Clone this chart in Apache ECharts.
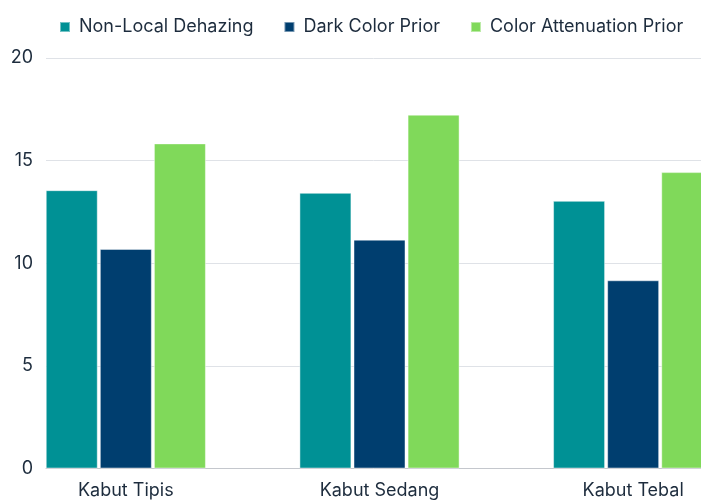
<!DOCTYPE html>
<html>
<head>
<meta charset="utf-8">
<script src="https://cdn.jsdelivr.net/npm/echarts@6/dist/echarts.min.js"></script>
<style>
  html, body { margin: 0; padding: 0; background: #fff; }
  #chart { width: 701px; height: 500px; }
</style>
</head>
<body>
<div id="chart"></div>
<script>
var categories = ["Kabut Tipis", "Kabut Sedang", "Kabut Tebal"];
var seriesNames = ["Non-Local Dehazing", "Dark Color Prior", "Color Attenuation Prior"];
var nonLocal = [13.56, 13.43, 13.04];
var darkPrior = [10.70, 11.15, 9.17];
var attenuation = [15.84, 17.24, 14.44];
var yTicks = [0, 5, 10, 15, 20];

var colors = ["#009195", "#003e6f", "#80d95a"];
var textColor = "#1d2c3d";
var font = "Inter";

var chart = echarts.init(document.getElementById("chart"));

function barSeries(name, data, color) {
  return {
    name: name,
    type: "bar",
    xAxisIndex: 1,
    yAxisIndex: 1,
    data: data,
    barWidth: 52,
    barGap: "4%",
    itemStyle: {
      color: color,
      borderColor: "rgba(255,255,255,0.45)",
      borderWidth: 1
    }
  };
}

var option = {
  animation: false,
  textStyle: { fontFamily: font },
  legend: {
    top: 13,
    left: 54,
    itemWidth: 10,
    itemHeight: 10,
    itemGap: 30,
    icon: "rect",
    data: seriesNames,
    textStyle: { color: textColor, fontSize: 18, fontFamily: font, padding: [0, 0, 0, 4] }
  },
  grid: [
    // axis frame: y labels + split lines
    { left: 46, right: 0, top: 58, bottom: 31.5 },
    // bars: wider than the canvas, cropped on the right
    { left: -1, width: 761, top: 58, bottom: 31.5, outerBoundsMode: "none" }
  ],
  xAxis: [
    {
      type: "category",
      gridIndex: 0,
      data: categories,
      axisLine: { show: true, lineStyle: { color: "#c4c7cd", width: 1 } },
      axisTick: { show: false },
      axisLabel: { show: false }
    },
    {
      type: "category",
      gridIndex: 1,
      data: categories,
      axisLine: { show: false },
      axisTick: { show: false },
      axisLabel: { color: textColor, fontSize: 18, fontFamily: font, margin: 13 }
    }
  ],
  yAxis: [
    {
      type: "value",
      gridIndex: 0,
      min: yTicks[0],
      max: yTicks[yTicks.length - 1],
      interval: 5,
      axisLine: { show: false },
      axisTick: { show: false },
      axisLabel: { color: textColor, fontSize: 18, fontFamily: font, margin: 13 },
      splitLine: { lineStyle: { color: "#dfe2e7", width: 1 } }
    },
    {
      type: "value",
      gridIndex: 1,
      min: yTicks[0],
      max: yTicks[yTicks.length - 1],
      show: false,
      splitLine: { show: false }
    }
  ],
  series: [
    barSeries(seriesNames[0], nonLocal, colors[0]),
    barSeries(seriesNames[1], darkPrior, colors[1]),
    barSeries(seriesNames[2], attenuation, colors[2])
  ]
};

chart.setOption(option);
</script>
</body>
</html>
